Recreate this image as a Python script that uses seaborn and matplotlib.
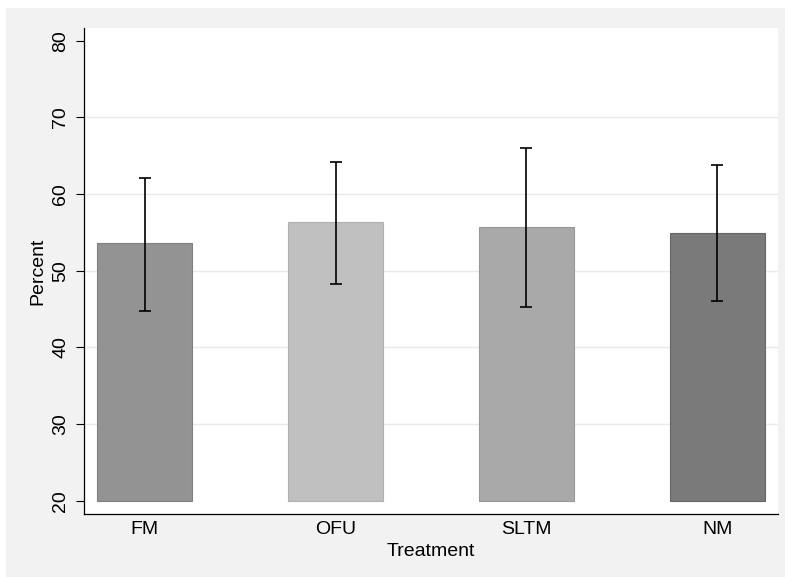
import numpy as np
import pandas as pd
import matplotlib as mpl
mpl.use('Agg')
import matplotlib.pyplot as plt
import seaborn as sns

# values
treatments = ['FM', 'OFU', 'SLTM', 'NM']
percent = [53.6, 56.4, 55.7, 54.9]
ci_low = [44.8, 48.3, 45.3, 46.1]
ci_high = [62.1, 64.2, 66.0, 63.8]
bar_colors = ['#939393', '#c0c0c0', '#a9a9a9', '#7a7a7a']
edge_colors = ['#808080', '#b0b0b0', '#979797', '#666666']
base = 20

sns.set_style('white')
plt.rcParams['font.family'] = ['Liberation Sans', 'DejaVu Sans']
plt.rcParams['text.color'] = 'black'
plt.rcParams['axes.labelcolor'] = 'black'
plt.rcParams['xtick.color'] = 'black'
plt.rcParams['ytick.color'] = 'black'

df = pd.DataFrame({'Treatment': treatments, 'Percent': percent})

fig = plt.figure(figsize=(7.85, 5.77), dpi=100)
fig.patch.set_facecolor('white')
# stata-like outer region
fig.patches.append(mpl.patches.Rectangle((6/785, 0), 1, 1 - 8/577, transform=fig.transFigure,
                                         facecolor='#f2f2f2', edgecolor='none', zorder=-10))
ax = fig.add_axes([84/785, 1 - 514/577, (778-84)/785, (514-28)/577])
ax.set_facecolor('white')

sns.barplot(data=df, x='Treatment', y='Percent', hue='Treatment', palette=bar_colors,
            width=0.5, legend=False, ax=ax, zorder=2, linewidth=0.8)
# bars start at the base value, not at zero
for p, ec in zip(ax.patches, edge_colors):
    p.set_y(base)
    p.set_height(p.get_height() - base)
    p.set_edgecolor(ec)

pos = np.arange(len(treatments))
mid = np.array(percent)
ax.errorbar(pos, mid, yerr=[mid - np.array(ci_low), np.array(ci_high) - mid],
            fmt='none', ecolor='black', elinewidth=1.2, capsize=4.5, capthick=1.2, zorder=3)

ax.set_xlim(-0.317, 3.317)
ax.set_ylim(18.27, 81.66)
ax.set_yticks([20, 30, 40, 50, 60, 70, 80])
ax.yaxis.grid(True, color='#eaeaea', linewidth=1, zorder=0)
ax.set_axisbelow(True)
gl = ax.get_ygridlines()
gl[0].set_visible(False)
gl[-1].set_visible(False)

for s in ['top', 'right']:
    ax.spines[s].set_visible(False)
for s in ['left', 'bottom']:
    ax.spines[s].set_color('black')
    ax.spines[s].set_linewidth(0.9)

ax.tick_params(axis='y', left=True, length=5.5, width=0.8, color='black', pad=5, labelsize=14)
plt.setp(ax.get_yticklabels(), rotation=90, va='center')
ax.tick_params(axis='x', bottom=False, length=0, pad=5, labelsize=14)
ax.set_xlabel('Treatment', fontsize=14, labelpad=4)
ax.set_ylabel('Percent', fontsize=14, labelpad=4)

fig.savefig('out.png', dpi=100)
